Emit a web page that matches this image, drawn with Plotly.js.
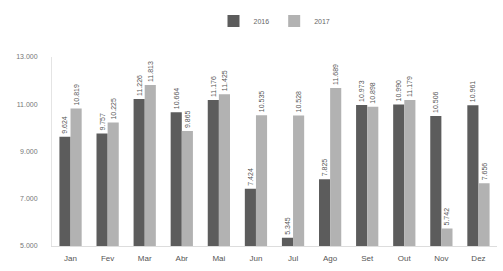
<!DOCTYPE html>
<html><head><meta charset="utf-8">
<script src="https://cdn.plot.ly/plotly-3.0.1.min.js"></script>
<style>html,body{margin:0;padding:0;background:#fff}#c{width:503px;height:271px}</style>
</head><body><div id="c"></div>
<script>
const months = ['Jan','Fev','Mar','Abr','Mai','Jun','Jul','Ago','Set','Out','Nov','Dez'];
const v2016 = [9624, 9757, 11226, 10664, 11176, 7424, 5345, 7825, 10973, 10990, 10506, 10961];
const v2017 = [10819, 10225, 11813, 9865, 11425, 10535, 10528, 11689, 10898, 11179, 5742, 7656];
const yTicks = [5000, 7000, 9000, 11000, 13000];

const common = {type:'bar', x:months, textposition:'outside', textangle:-90,
  texttemplate:'%{y:,.0f}', cliponaxis:false, constraintext:'none',
  textfont:{family:'Liberation Sans, Arial', size:7, color:'#555'}};
const data = [
  Object.assign({}, common, {name:'2016', y:v2016, marker:{color:'#5c5c5c'}}),
  Object.assign({}, common, {name:'2017', y:v2017, marker:{color:'#b2b2b2'}})
];
const layout = {
  width:503, height:271, margin:{l:52, r:6, t:57, b:25},
  paper_bgcolor:'#fff', plot_bgcolor:'#fff', separators:',.',
  font:{family:'Liberation Sans, Arial', size:8, color:'#666'},
  barmode:'group', bargap:0.4, bargroupgap:0,
  showlegend:true,
  legend:{orientation:'h', x:0.5, xanchor:'center', y:1.19, yanchor:'middle',
    font:{size:7, color:'#666'}, itemwidth:30, traceorder:'normal'},
  xaxis:{showgrid:false, showline:true, linecolor:'#ddd', ticks:'',
    tickfont:{size:8, color:'#555'}, ticklabelstandoff:4},
  yaxis:{range:[5000,13000], tickvals:yTicks, tickformat:',.0f', showgrid:false,
    showline:true, linecolor:'#e4e4e4', zeroline:false, ticks:'',
    tickfont:{size:7, color:'#777'}, ticklabelstandoff:12}
};
Plotly.newPlot('c', data, layout, {displayModeBar:false, staticPlot:true});
</script></body></html>
